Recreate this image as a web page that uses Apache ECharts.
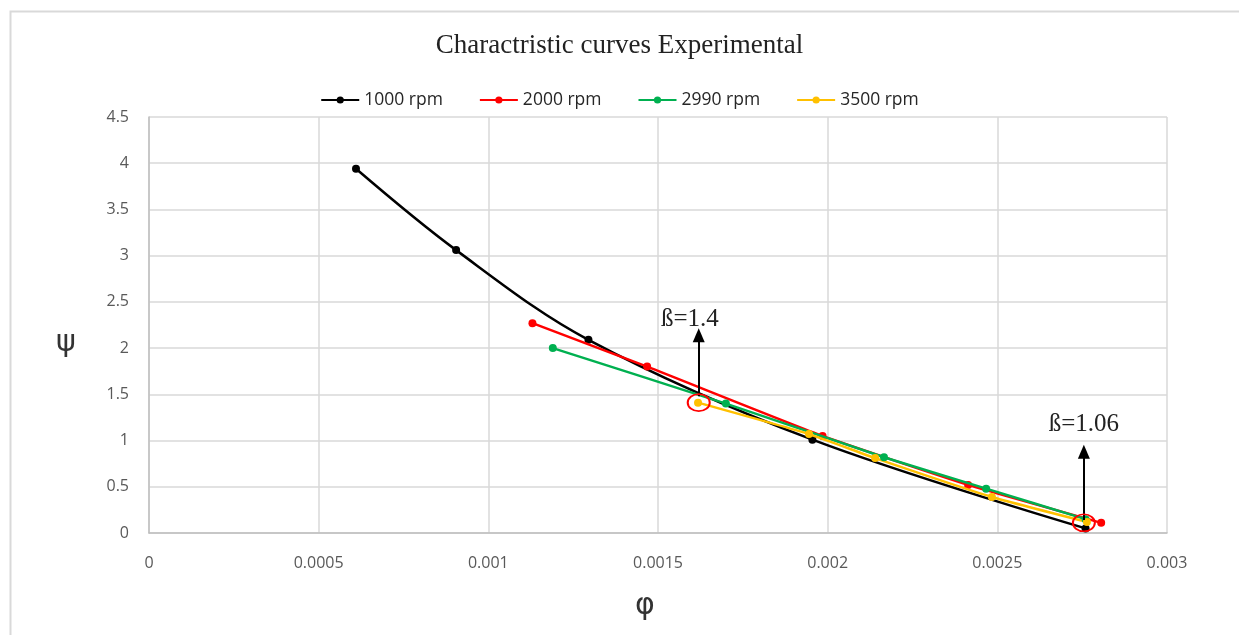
<!DOCTYPE html>
<html>
<head>
<meta charset="utf-8">
<script src="https://cdn.jsdelivr.net/npm/echarts@6/dist/echarts.min.js"></script>
<style>html,body{margin:0;padding:0;background:#fff;}#c{width:1239px;height:635px;}</style>
</head>
<body>
<div id="c"></div>
<script>
const seriesNames = ['1000 rpm', '2000 rpm', '2990 rpm', '3500 rpm'];
const rpm1000 = [[0.00061, 3.94], [0.000905, 3.06], [0.001295, 2.09], [0.001955, 1.01], [0.00276, 0.05]];
const rpm2000 = [[0.00113, 2.27], [0.001468, 1.80], [0.001985, 1.05], [0.002414, 0.52], [0.002806, 0.11]];
const rpm2990 = [[0.00119, 2.00], [0.0017, 1.40], [0.002166, 0.82], [0.002467, 0.48], [0.00276, 0.15]];
const rpm3500 = [[0.001618, 1.41], [0.001945, 1.07], [0.00214, 0.81], [0.002484, 0.39], [0.002764, 0.12]];
const xTicks = [0, 0.0005, 0.001, 0.0015, 0.002, 0.0025, 0.003];
const yTicks = [0, 0.5, 1, 1.5, 2, 2.5, 3, 3.5, 4, 4.5];
const annotations = [
  {label: 'ß=1.4', x: 0.00162, y: 1.41, arrowFrom: 1.48, arrowTo: 2.14, textY: 2.31, textX: 0.001594},
  {label: 'ß=1.06', x: 0.002755, y: 0.11, arrowFrom: 0.14, arrowTo: 0.88, textY: 1.17, textX: 0.002755}
];
const colors = ['#000000', '#ff0000', '#00b050', '#ffc000'];
const datasets = [rpm1000, rpm2000, rpm2990, rpm3500];

const chart = echarts.init(document.getElementById('c'), null, {renderer: 'canvas'});
const series = datasets.map((d, i) => ({
  name: seriesNames[i],
  type: 'line',
  data: d,
  smooth: i === 0 ? 0.35 : 0.15,
  symbol: 'circle',
  symbolSize: 8,
  lineStyle: {width: 2.5, color: colors[i]},
  itemStyle: {color: colors[i]},
  z: 2 + (i === 3 ? 2 : i)
}));
series.push({
  name: 'annot',
  type: 'scatter',
  data: [],
  silent: true,
  z: 10,
  markPoint: {
    silent: true,
    data: annotations.map(a => ({
      coord: [a.x, a.y], symbol: 'circle', symbolSize: [22, 17],
      itemStyle: {color: 'rgba(0,0,0,0)', borderColor: '#ff0000', borderWidth: 1.8},
      label: {show: false}
    })).concat(annotations.map(a => ({
      coord: [a.textX, a.textY], symbol: 'circle', symbolSize: 2,
      itemStyle: {color: 'rgba(0,0,0,0)'},
      label: {show: true, formatter: a.label, fontFamily: 'Liberation Serif', fontSize: 25, color: '#222', position: 'inside'}
    })))
  },
  markLine: {
    silent: true,
    symbol: ['none', 'triangle'],
    symbolSize: [12, 14],
    lineStyle: {color: '#000', width: 2, type: 'solid'},
    label: {show: false},
    data: annotations.map(a => [{coord: [a.x, a.arrowFrom]}, {coord: [a.x, a.arrowTo]}])
  }
});

chart.setOption({
  animation: false,
  backgroundColor: '#fff',
  title: {
    text: 'Charactristic curves Experimental',
    left: 'center', top: 27,
    textStyle: {fontFamily: 'Liberation Serif', fontSize: 27, fontWeight: 'normal', color: '#222'}
  },
  legend: {
    data: seriesNames,
    top: 86, left: 'center',
    itemWidth: 38, itemHeight: 9, itemGap: 36,
    textStyle: {fontFamily: 'Open Sans', fontSize: 17.5, color: '#262626'}
  },
  graphic: [{
    type: 'rect', left: 8, top: 9, shape: {width: 1240, height: 640},
    style: {fill: 'none', stroke: '#d9d9d9', lineWidth: 2}, silent: true
  }, {
    type: 'text', left: 56, top: 328, silent: true,
    style: {text: 'ψ', font: '30px "DejaVu Sans"', fill: '#333'}
  }],
  grid: {left: 149, right: 72, top: 117, bottom: 102},
  xAxis: {
    type: 'value', min: 0, max: 0.003, interval: 0.0005,
    name: 'φ', nameLocation: 'middle', nameGap: 58,
    nameTextStyle: {fontFamily: 'DejaVu Sans', fontSize: 30, color: '#333', padding: [0, 26, 0, 0]},
    axisLine: {show: true, lineStyle: {color: '#bfbfbf', width: 1.5}},
    axisTick: {show: false},
    axisLabel: {margin: 22, fontFamily: 'Open Sans', fontSize: 16, color: '#595959',
      formatter: v => { const t = xTicks.find(k => Math.abs(k - v) < 1e-9); return t === undefined ? '' : String(t); }},
    splitLine: {show: true, lineStyle: {color: '#d9d9d9', width: 1.5}}
  },
  yAxis: {
    type: 'value', min: 0, max: 4.5, interval: 0.5,
    axisLine: {show: true, lineStyle: {color: '#bfbfbf', width: 1.5}},
    axisTick: {show: false},
    axisLabel: {margin: 20, fontFamily: 'Open Sans', fontSize: 16, color: '#595959',
      formatter: v => { const t = yTicks.find(k => Math.abs(k - v) < 1e-9); return t === undefined ? '' : String(t); }},
    splitLine: {show: true, lineStyle: {color: '#d9d9d9', width: 1.5}}
  },
  series: series
});
</script>
</body>
</html>
